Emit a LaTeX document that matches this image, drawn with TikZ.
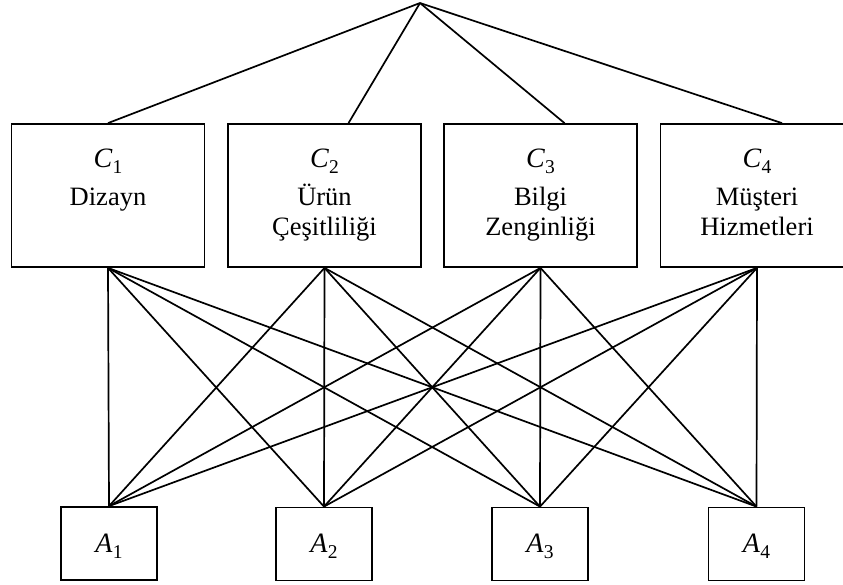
\documentclass[tikz,border=0pt]{standalone}
\usepackage{fontspec}
\setmainfont{Liberation Serif}
\newcommand{\symlab}[2]{{\fontsize{28}{28}\selectfont\itshape #1}\kern0.5pt\raisebox{-6pt}{\fontsize{19.5}{19.5}\selectfont #2}}
\tikzset{
  cbox/.style={draw, line width=1.8pt, minimum width=193pt, minimum height=143pt, inner sep=0pt},
  abox/.style={draw, line width=1.8pt, minimum width=96pt, minimum height=73pt, inner sep=0pt},
  ln/.style={line width=1.7pt},
  txt/.style={inner sep=0pt, anchor=base, font=\fontsize{26.5}{26.5}\selectfont}
}
\begin{document}
\begin{tikzpicture}[x=1pt,y=-1pt]
\useasboundingbox (0,0) rectangle (843,584);
\coordinate (apex) at (420,3);
% criteria boxes
\node[cbox] (C1) at (108,195.5) {};
\node[cbox] (C2) at (324.5,195.5) {};
\node[cbox] (C3) at (540.5,195.5) {};
\node[cbox] (C4) at (757,195.5) {};
% alternative boxes
\node[abox] (A1) at (109,543.5) {};
\node[abox] (A2) at (324,544) {};
\node[abox] (A3) at (540,544) {};
\node[abox] (A4) at (756.5,544) {};
% texts
\node[txt] (t1a) at (108,167) {\symlab{C}{1}};
\node[txt] (t1b) at (108,205) {Dizayn};
\node[txt] (t2a) at (324.5,167) {\symlab{C}{2}};
\node[txt] (t2b) at (324.5,205) {Ürün};
\node[txt] (t2c) at (324.5,235) {Çeşitliliği};
\node[txt] (t3a) at (540.5,167) {\symlab{C}{3}};
\node[txt] (t3b) at (540.5,205) {Bilgi};
\node[txt] (t3c) at (540.5,235) {Zenginliği};
\node[txt] (t4a) at (757,167) {\symlab{C}{4}};
\node[txt] (t4b) at (757,205) {Müşteri};
\node[txt] (t4c) at (757,235) {Hizmetleri};
\node[txt] (u1) at (109,552) {\symlab{A}{1}};
\node[txt] (u2) at (324,552) {\symlab{A}{2}};
\node[txt] (u3) at (540,552) {\symlab{A}{3}};
\node[txt] (u4) at (756.5,552) {\symlab{A}{4}};
% top connectors
\draw[ln] (apex) -- (C1.north);
\draw[ln] (apex) -- ([xshift=24pt]C2.north);
\draw[ln] (apex) -- ([xshift=24pt]C3.north);
\draw[ln] (apex) -- ([xshift=25pt]C4.north);
% bottom connectors
\foreach \c in {C1,C2,C3,C4}{
  \foreach \a in {A1,A2,A3,A4}{
    \draw[ln] (\c.south) -- (\a.north);
  }
}
\end{tikzpicture}
\end{document}
